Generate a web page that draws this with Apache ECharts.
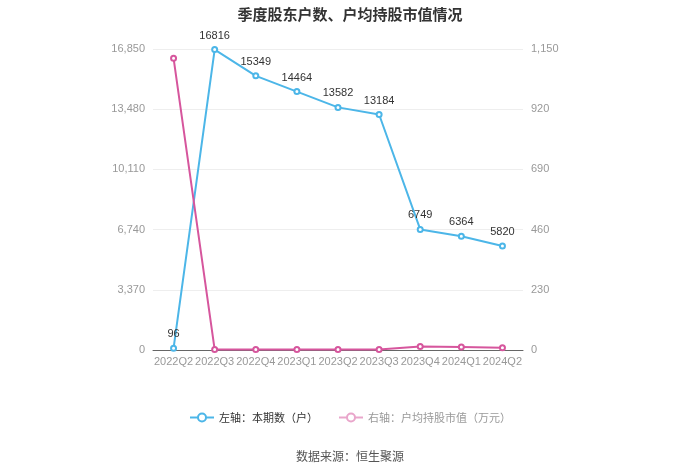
<!DOCTYPE html>
<html><head><meta charset="utf-8">
<script src="https://cdn.jsdelivr.net/npm/echarts@6/dist/echarts.min.js"></script>
<style>html,body{margin:0;padding:0;background:#fff}#c{width:700px;height:474px}</style>
</head><body><div id="c"></div>
<script>
var categories = ['2022Q2','2022Q3','2022Q4','2023Q1','2023Q2','2023Q3','2023Q4','2024Q1','2024Q2'];
var holders = [96,16816,15349,14464,13582,13184,6749,6364,5820];
var avgValue = [1115,1.5,1.8,1.6,1.7,1.9,13,11,9];
var leftTicks = [0,3370,6740,10110,13480,16850];
var rightTicks = [0,230,460,690,920,1150];
var chart = echarts.init(document.getElementById('c'));
chart.setOption({
  animation:false,
  title:{text:'季度股东户数、户均持股市值情况',left:'center',top:2,textStyle:{fontSize:15,fontWeight:'bold',color:'#333',fontFamily:'Noto Sans CJK SC'}},
  grid:{left:153,right:177,top:49,bottom:124},
  legend:{bottom:46,itemGap:20,itemWidth:24,itemHeight:10,textStyle:{fontSize:11,color:'#333',fontFamily:'Noto Sans CJK SC'},
    data:[{name:'左轴：本期数（户）'},
          {name:'右轴：户均持股市值（万元）',textStyle:{color:'#999'},itemStyle:{color:'#e9a6cb'},lineStyle:{color:'#e9a6cb'}}]},
  graphic:[{type:'text',left:'center',top:450,style:{text:'数据来源：恒生聚源',fontSize:12,fill:'#555',fontFamily:'Noto Sans CJK SC'}}],
  xAxis:{type:'category',data:categories,boundaryGap:true,
    axisLine:{lineStyle:{color:'#666'}},axisTick:{show:false},
    axisLabel:{color:'#999',fontSize:11,margin:6,interval:0}},
  yAxis:[
    {type:'value',min:0,max:leftTicks[leftTicks.length-1],interval:leftTicks[1],
     axisLine:{show:false},axisTick:{show:false},splitLine:{lineStyle:{color:'#eee'}},
     axisLabel:{color:'#999',fontSize:11}},
    {type:'value',min:0,max:rightTicks[rightTicks.length-1],interval:rightTicks[1],
     axisLine:{show:false},axisTick:{show:false},splitLine:{show:false},
     axisLabel:{color:'#999',fontSize:11}}
  ],
  series:[
    {name:'左轴：本期数（户）',type:'line',yAxisIndex:0,data:holders,symbol:'emptyCircle',symbolSize:5,
     itemStyle:{color:'#4cb6e8'},lineStyle:{width:2,color:'#4cb6e8'},
     label:{show:true,position:'top',color:'#333',fontSize:11}},
    {name:'右轴：户均持股市值（万元）',type:'line',yAxisIndex:1,data:avgValue,symbol:'emptyCircle',symbolSize:5,
     itemStyle:{color:'#d6569d'},lineStyle:{width:2,color:'#d6569d'}}
  ]
});
</script></body></html>
